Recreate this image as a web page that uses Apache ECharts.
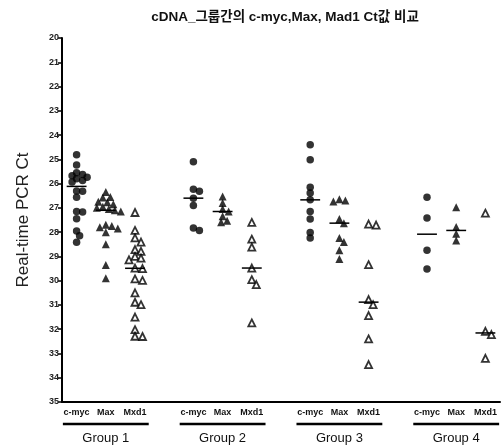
<!DOCTYPE html>
<html><head><meta charset="utf-8">
<script src="https://cdn.jsdelivr.net/npm/echarts@6/dist/echarts.min.js"></script>
<style>html,body{margin:0;padding:0;background:#fff}#c{width:501px;height:446px}</style>
</head><body><div id="c"></div>
<script>
// ---- data ----
const titleText = 'cDNA_그룹간의 c-myc,Max, Mad1 Ct값 비교';
const yName = 'Real-time PCR Ct';
const columnNames = ['c-myc', 'Max', 'Mxd1'];
const groupNames = ['Group 1', 'Group 2', 'Group 3', 'Group 4'];
const yMin = 20, yMax = 35, yStep = 1;

const g1_cmyc = [24.81, 25.23, 25.55, 25.62, 25.68, 25.74, 25.8, 25.87, 25.93, 26.3, 26.32, 26.56, 27.15, 27.17, 27.45, 27.95, 28.15, 28.42];
const g1_max  = [26.35, 26.55, 26.57, 26.75, 26.77, 26.85, 26.95, 27.0, 27.05, 27.1, 27.15, 27.7, 27.75, 27.8, 27.85, 28.0, 28.5, 29.35, 29.9];
const g1_mxd1 = [27.19, 27.93, 28.24, 28.41, 28.72, 28.79, 29.0, 29.07, 29.14, 29.48, 29.5, 29.93, 29.99, 30.5, 30.89, 30.99, 31.5, 32.02, 32.29, 32.3];
const g2_cmyc = [25.1, 26.23, 26.32, 26.6, 26.9, 27.83, 27.93];
const g2_max  = [26.53, 26.8, 27.05, 27.15, 27.35, 27.53, 27.59];
const g2_mxd1 = [27.6, 28.29, 28.62, 29.48, 29.96, 30.16, 31.74];
const g3_cmyc = [24.4, 25.02, 26.15, 26.39, 26.67, 27.15, 27.46, 28.01, 28.24];
const g3_max  = [26.64, 26.7, 26.74, 27.46, 27.63, 28.24, 28.41, 28.75, 29.11];
const g3_mxd1 = [27.67, 27.71, 29.34, 30.78, 30.99, 31.44, 32.4, 33.46];
const g4_cmyc = [26.56, 27.42, 28.75, 29.52];
const g4_max  = [26.97, 27.79, 28.07, 28.34];
const g4_mxd1 = [27.22, 32.09, 32.22, 33.2];

const cmycSets = [g1_cmyc, g2_cmyc, g3_cmyc, g4_cmyc];
const maxSets  = [g1_max, g2_max, g3_max, g4_max];
const mxd1Sets = [g1_mxd1, g2_mxd1, g3_mxd1, g4_mxd1];

// ---- layout helpers ----
const W = 501, H = 446;
const GRID = {left: 62, right: 1, top: 38, bottom: 44};
const SLOTS = 15; // 3 columns per group + 1 gap
const PX_X = (W - GRID.left - GRID.right) / SLOTS;
const PX_Y = (H - GRID.top - GRID.bottom) / (yMax - yMin);
const FONT = '"Liberation Sans", Arial, "Noto Sans CJK KR", sans-serif';

function slotOf(g, c) { return g * 4 + c; }

function swarm(values, slot, D) {
  const sorted = values.slice().sort((a, b) => a - b);
  const placed = [];
  sorted.forEach(v => {
    const py = v * PX_Y;
    let best = 0;
    for (let k = 0; k < 60; k++) {
      const off = k === 0 ? 0 : (k % 2 ? 1 : -1) * Math.ceil(k / 2) * 1.5;
      if (placed.every(p => Math.hypot(p.x - off, p.y - py) >= D)) { best = off; break; }
    }
    placed.push({x: best, y: py, v});
  });
  return placed.map(p => [slot + p.x / PX_X, p.v]);
}
function median(a) {
  const s = a.slice().sort((x, y) => x - y); const n = s.length;
  return n % 2 ? s[(n - 1) / 2] : (s[n / 2 - 1] + s[n / 2]) / 2;
}

const circleData = [], fillTriData = [], openTriData = [], medData = [];
const spacing = [5.2, 6.0, 6.2];
[cmycSets, maxSets, mxd1Sets].forEach((sets, c) => {
  sets.forEach((vals, g) => {
    const s = slotOf(g, c);
    const pts = swarm(vals, s, spacing[c]);
    (c === 0 ? circleData : c === 1 ? fillTriData : openTriData).push(...pts);
    medData.push([s, median(vals)]);
  });
});

const colCats = [], grpCats = [];
for (let i = 0; i < SLOTS; i++) {
  const g = Math.floor(i / 4), c = i % 4;
  colCats.push(c < 3 && g < 4 ? columnNames[c] : '');
  grpCats.push(c === 1 && g < 4 ? groupNames[g] : '');
}
const groupCenters = groupNames.map((n, g) => [slotOf(g, 1)]);

const chart = echarts.init(document.getElementById('c'), null, {renderer: 'canvas'});
chart.setOption({
  animation: false,
  backgroundColor: '#fff',
  title: {
    text: titleText, left: 280, top: 6, textAlign: 'center',
    textStyle: {fontFamily: FONT, fontSize: 13.5, fontWeight: 'bold', color: '#111'}
  },
  grid: GRID,
  xAxis: [
    {type: 'value', min: -0.5, max: SLOTS - 0.5, show: false},
    {type: 'category', data: colCats, position: 'bottom', boundaryGap: true,
     axisLine: {onZero: false, lineStyle: {color: '#000', width: 2}}, axisTick: {show: false},
     axisLabel: {interval: 0, margin: 6, fontFamily: FONT, fontSize: 9, fontWeight: 'bold', color: '#111'}},
    {type: 'category', data: grpCats, position: 'bottom', offset: 22, boundaryGap: true,
     axisLine: {show: false}, axisTick: {show: false},
     axisLabel: {interval: 0, margin: 8, fontFamily: FONT, fontSize: 13, color: '#111'}}
  ],
  yAxis: {
    type: 'value', inverse: true, min: yMin, max: yMax, interval: yStep,
    name: yName, nameLocation: 'middle', nameGap: 30,
    nameTextStyle: {fontFamily: FONT, fontSize: 17, color: '#222'},
    axisLine: {show: true, onZero: false, lineStyle: {color: '#000', width: 2}},
    axisTick: {show: true, length: 4, lineStyle: {color: '#000', width: 1.5}},
    axisLabel: {margin: 3, fontFamily: FONT, fontSize: 9, fontWeight: 'bold', color: '#222'},
    splitLine: {show: false}
  },
  series: [
    {type: 'scatter', xAxisIndex: 0, data: circleData, symbol: 'circle', symbolSize: 7.5,
     itemStyle: {color: '#000'}},
    {type: 'scatter', xAxisIndex: 0, data: fillTriData, symbol: 'triangle', symbolSize: 8,
     itemStyle: {color: '#000'}},
    {type: 'scatter', xAxisIndex: 0, data: openTriData, symbol: 'triangle', symbolSize: 7,
     itemStyle: {color: '#fff', borderColor: '#000', borderWidth: 1.8}},
    {type: 'custom', xAxisIndex: 0, data: medData, z: 5,
     renderItem: (params, api) => {
       const x = api.value(0), y = api.value(1);
       const p1 = api.coord([x - 0.34, y]), p2 = api.coord([x + 0.34, y]);
       return {type: 'line', shape: {x1: p1[0], y1: p1[1], x2: p2[0], y2: p2[1]},
               style: {stroke: '#000', lineWidth: 1.5}};
     }},
    {type: 'custom', xAxisIndex: 0, data: groupCenters, clip: false,
     renderItem: (params, api) => {
       const c = api.value(0);
       const p1 = api.coord([c - 1.47, yMax]), p2 = api.coord([c + 1.47, yMax]);
       const y = p1[1] + 22;
       return {type: 'line', shape: {x1: p1[0], y1: y, x2: p2[0], y2: y},
               style: {stroke: '#000', lineWidth: 2.5}};
     }}
  ]
});
</script>
</body></html>
